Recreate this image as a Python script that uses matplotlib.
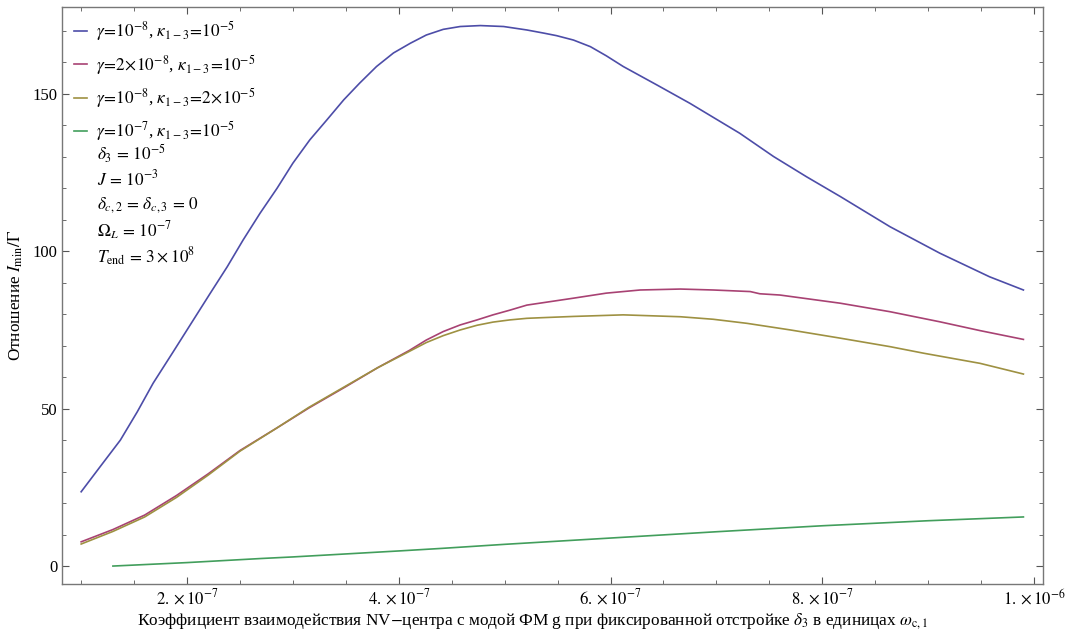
import numpy as np
import matplotlib
matplotlib.use('Agg')
import matplotlib.pyplot as plt
from matplotlib.ticker import FixedLocator, MultipleLocator

plt.rcParams['font.family'] = ['Liberation Serif', 'DejaVu Serif']
plt.rcParams['mathtext.fontset'] = 'stix'

# g in units of 1e-7, ratio I_min / Gamma
g_blue = [1.0, 1.18, 1.37, 1.53, 1.68, 1.87, 2.06, 2.22, 2.38, 2.53, 2.69, 2.85, 3.0, 3.16,
          3.32, 3.48, 3.63, 3.79, 3.95, 4.11, 4.26, 4.42, 4.58, 4.77, 4.99, 5.21, 5.37,
          5.49, 5.65, 5.81, 5.96, 6.12, 6.44, 6.75, 7.22, 7.54, 7.85, 8.17, 8.64, 9.11,
          9.58, 9.9]
r_blue = [23.6, 31.6, 40.0, 49.0, 58.1, 68.1, 78.2, 86.7, 95.1, 103.6, 112.1, 120.0, 128.0,
          135.4, 141.7, 148.1, 153.4, 158.7, 163.0, 166.1, 168.7, 170.5, 171.4, 171.7, 171.4,
          170.3, 169.3, 168.5, 167.1, 165.0, 162.1, 158.7, 152.8, 147.0, 137.5, 130.1, 123.7,
          117.4, 107.8, 99.4, 91.9, 87.7]

g_mag = [1.0, 1.3, 1.6, 1.9, 2.2, 2.5, 2.85, 3.15, 3.5, 3.8, 4.1, 4.26, 4.42, 4.58, 4.74,
         4.89, 5.05, 5.21, 5.35, 5.65, 5.96, 6.28, 6.66, 6.97, 7.32, 7.41, 7.6, 8.17, 8.64,
         9.11, 9.49, 9.9]
r_mag = [7.7, 11.6, 16.2, 22.4, 29.3, 36.7, 43.9, 50.2, 57.0, 63.0, 68.5, 71.8, 74.5, 76.6,
         78.2, 79.8, 81.3, 82.9, 83.6, 85.1, 86.7, 87.7, 88.0, 87.7, 87.2, 86.5, 86.1, 83.5,
         80.8, 77.6, 74.8, 72.0]

g_yel = [1.0, 1.3, 1.6, 1.9, 2.2, 2.5, 2.85, 3.15, 3.5, 3.8, 4.1, 4.26, 4.42, 4.58, 4.74,
         4.89, 5.05, 5.21, 5.35, 5.65, 6.12, 6.66, 6.97, 7.29, 7.7, 8.17, 8.64, 8.96, 9.49, 9.9]
r_yel = [7.0, 11.0, 15.6, 21.8, 28.9, 36.5, 43.9, 50.4, 57.2, 63.0, 68.2, 71.0, 73.2, 75.0,
         76.5, 77.5, 78.2, 78.7, 78.9, 79.3, 79.8, 79.2, 78.4, 77.1, 75.0, 72.4, 69.7, 67.6,
         64.4, 61.0]

g_grn = [1.3, 2.0, 2.7, 3.0, 4.0, 4.4, 5.0, 6.0, 7.0, 8.0, 9.0, 9.9]
r_grn = [0.0, 1.1, 2.4, 2.9, 4.8, 5.6, 6.9, 8.9, 10.9, 12.8, 14.4, 15.6]

labels = [r'$\gamma\!=\!10^{-8}$, $\kappa_{1-3}\!=\!10^{-5}$',
          r'$\gamma\!=\!2\!\times\!10^{-8}$, $\kappa_{1-3}\!=\!10^{-5}$',
          r'$\gamma\!=\!10^{-8}$, $\kappa_{1-3}\!=\!2\!\times\!10^{-5}$',
          r'$\gamma\!=\!10^{-7}$, $\kappa_{1-3}\!=\!10^{-5}$']
params = [r'$\delta_3\,=\,10^{-5}$',
          r'$J\,=\,10^{-3}$',
          r'$\delta_{c,2}\,=\,\delta_{c,3}\,=\,0$',
          r'$\Omega_L\,=\,10^{-7}$',
          r'$T_{\mathrm{end}}\,=\,3\times10^{8}$']
colors = [(0.30, 0.30, 0.66), (0.66, 0.26, 0.45), (0.62, 0.57, 0.26), (0.26, 0.62, 0.36)]

xticks = [2, 4, 6, 8, 10]
xtick_labels = [r'$2.\times10^{-7}$', r'$4.\times10^{-7}$', r'$6.\times10^{-7}$',
                r'$8.\times10^{-7}$', r'$1.\times10^{-6}$']

fig = plt.figure(figsize=(10.69, 6.35), dpi=100)
ax = fig.add_axes([62/1069, 51/635, 981/1069, 577/635])

series = [(g_blue, r_blue), (g_mag, r_mag), (g_yel, r_yel), (g_grn, r_grn)]
for (g, r), c, lab in zip(series, colors, labels):
    ax.plot(np.array(g) * 1e-7, r, color=c, lw=1.2, label=lab)

ax.set_xlim(0.819e-7, 1.0085e-6)
ax.set_ylim(-5.7, 177.6)

ax.xaxis.set_major_locator(FixedLocator(np.array(xticks) * 1e-7))
ax.set_xticklabels(xtick_labels)
ax.xaxis.set_minor_locator(MultipleLocator(0.5e-7))
ax.yaxis.set_major_locator(MultipleLocator(50))
ax.yaxis.set_minor_locator(MultipleLocator(10))
ax.tick_params(which='both', direction='in', top=True, right=True, labelsize=12, color='#555555')
ax.tick_params(which='major', length=5)
ax.tick_params(which='minor', length=3)
ax.tick_params(axis='x', pad=3)
for s in ax.spines.values():
    s.set_color('#777777')
    s.set_linewidth(1.0)

leg = ax.legend(loc='upper left', frameon=False, fontsize=12.4, handlelength=0.75,
                handletextpad=0.5, labelspacing=0.55, borderaxespad=0.3,
                bbox_to_anchor=(0.0, 1.0))

py = [154, 179, 205, 231, 257]
for t, y in zip(params, py):
    ax.text((97 - 62) / 981, (584 - y) / 577, t, transform=ax.transAxes,
            fontsize=12.4, va='center', ha='left')

ax.set_xlabel(r'Коэффициент взаимодействия NV$-$центра с модой ФМ g при фиксированной отстройке $\delta_3$ в единицах $\omega_{\mathrm{c},1}$',
              fontsize=12.4)
ax.xaxis.set_label_coords((532 - 62) / 981, (584 - 611) / 577)
ax.set_ylabel(r'Отношение $I_{\mathrm{min}}/\Gamma$', fontsize=12.4)
ax.yaxis.set_label_coords((25 - 62) / 981, 0.5)

fig.savefig('out.png', dpi=100)
